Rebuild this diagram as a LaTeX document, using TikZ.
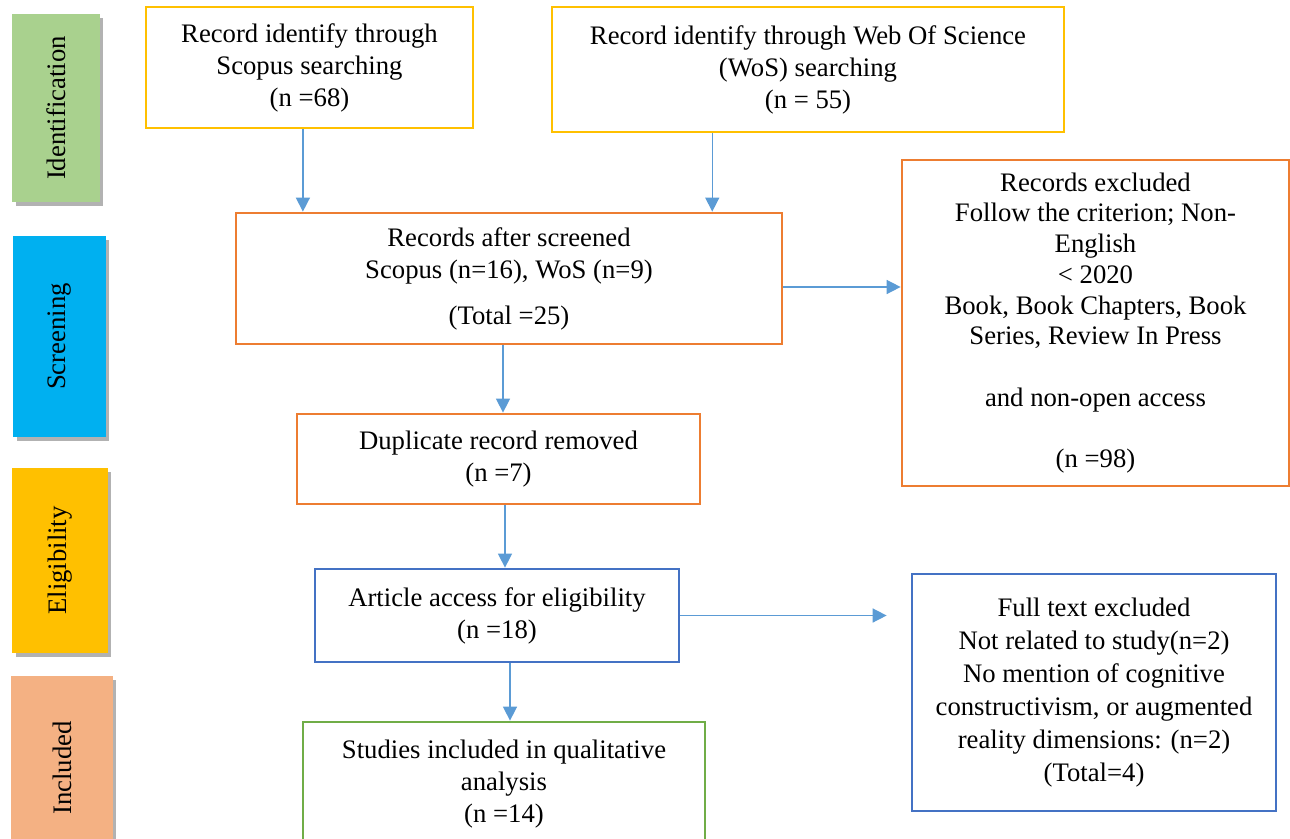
\documentclass[tikz,border=0pt]{standalone}
\usepackage{fontspec}
\setmainfont{Liberation Serif}
\usetikzlibrary{arrows.meta,shadows,calc}
\definecolor{barGreen}{HTML}{A9D18E}
\definecolor{barCyan}{HTML}{00B0F0}
\definecolor{barGold}{HTML}{FFC000}
\definecolor{barPeach}{HTML}{F4B183}
\definecolor{lineYellow}{HTML}{FFC000}
\definecolor{lineOrange}{HTML}{ED7D31}
\definecolor{lineBlue}{HTML}{4472C4}
\definecolor{lineGreen}{HTML}{70AD47}
\definecolor{arrowBlue}{HTML}{5B9BD5}
\begin{document}
\begin{tikzpicture}[x=0.02cm,y=-0.02cm,
    font=\fontsize{15.2}{18.2}\selectfont,
    stage/.style={inner sep=0pt,
      drop shadow={shadow xshift=0.07cm,shadow yshift=-0.08cm,fill=black,opacity=0.3}},
    box/.style={draw,line width=1.6pt,inner sep=0pt,align=center,fill=white}]
      \useasboundingbox (0,0) rectangle (1290,838);
      % phase bars on the left
      \node[stage,fill=barGreen,minimum width=1.76cm,minimum height=3.76cm] (idf) at (56,108) {\rotatebox{90}{Identification}};
      \node[stage,fill=barCyan,minimum width=1.86cm,minimum height=4.02cm] (scr) at (59.5,336.5) {\rotatebox{90}{Screening}};
      \node[stage,fill=barGold,minimum width=1.92cm,minimum height=3.70cm] (elg) at (60,560.5) {\rotatebox{90}{Eligibility}};
      \node[stage,fill=barPeach,minimum width=2.04cm,minimum height=3.68cm] (inc) at (62,768) {\rotatebox{90}{Included}};
      % flow boxes
      \node[box,draw=lineYellow,minimum width=6.54cm,minimum height=2.42cm] (scopus) at (309.5,67.5)
        {Record identify through\\Scopus searching\\(n =68)};
      \node[box,draw=lineYellow,minimum width=10.24cm,minimum height=2.50cm] (wos) at (808,69.5)
        {Record identify through Web Of Science\\(WoS) searching\\(n = 55)};
      \node[box,draw=lineOrange,minimum width=10.92cm,minimum height=2.62cm] (screened) at (509,278.5)
        {Records after screened\\Scopus (n=16), WoS (n=9)\\[8pt](Total =25)};
      \node[box,draw=lineOrange,minimum width=7.74cm,minimum height=6.52cm,
        font=\fontsize{15.2}{17.5}\selectfont] (excl) at (1095.5,323)
        {Records excluded\\Follow the criterion; Non-\\English\\{<} 2020\\Book, Book Chapters, Book\\Series, Review In Press\\[17.5pt]
         and non-open access\\[17.5pt](n =98)};
      \node[box,draw=lineOrange,minimum width=8.06cm,minimum height=1.80cm] (dup) at (498.5,459)
        {Duplicate record removed\\(n =7)};
      \node[box,draw=lineBlue,minimum width=7.28cm,minimum height=1.86cm] (article) at (497,615.5)
        {Article access for eligibility\\(n =18)};
      \node[box,draw=lineBlue,minimum width=7.28cm,minimum height=4.74cm,
        font=\fontsize{15.2}{18.8}\selectfont] (fulltext) at (1094,692.5)
        {Full text excluded\\Not related to study(n=2)\\No mention of cognitive\\constructivism, or augmented\\reality dimensions: (n=2)\\(Total=4)};
      \node[box,draw=lineGreen,minimum width=8.04cm,minimum height=2.48cm] (studies) at (504,784)
        {Studies included in qualitative\\analysis\\(n =14)};
      % arrow start points
      \coordinate (scopusOut) at ($(scopus.south west)!0.48!(scopus.south east)$);
      \coordinate (wosOut) at ($(wos.south west)!0.314!(wos.south east)$);
      \begin{scope}[draw=arrowBlue,line width=0.85pt,-{Triangle[length=0.28cm,width=0.28cm]}]
        \draw (scopusOut) -- (scopusOut |- screened.north);
        \draw (wosOut) -- (wosOut |- screened.north);
        \draw ([yshift=-0.17cm]screened.east) -- ([yshift=-0.17cm]screened.east -| excl.west);
        \draw ([xshift=0.09cm]dup.north |- screened.south) -- ([xshift=0.09cm]dup.north);
        \draw ([xshift=0.13cm]dup.south) -- ([xshift=0.13cm]dup.south |- article.north);
        \draw ([xshift=0.12cm]studies.north |- article.south) -- ([xshift=0.12cm]studies.north);
        \draw[shorten >=0.48cm] (article.east) -- (article.east -| fulltext.west);
      \end{scope}
    \end{tikzpicture}
\end{document}
